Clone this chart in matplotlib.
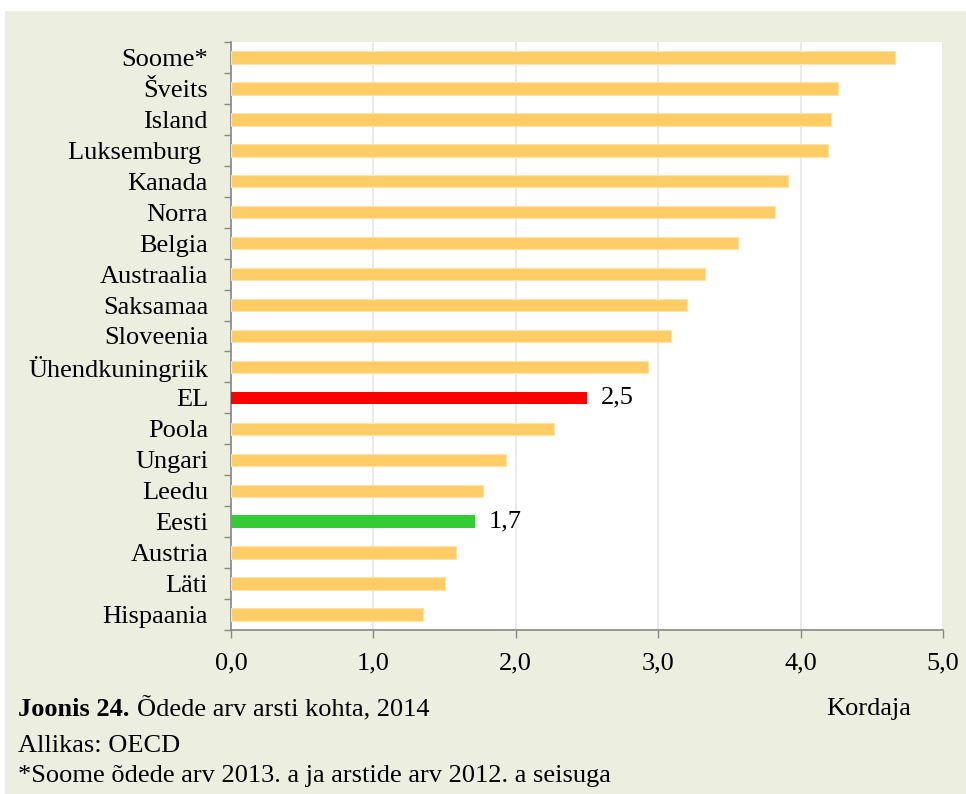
import matplotlib
matplotlib.use("Agg")
import matplotlib.pyplot as plt
import numpy as np
from matplotlib.patches import Rectangle

# data, top to bottom
countries = ["Soome*", "Šveits", "Island", "Luksemburg ", "Kanada", "Norra", "Belgia",
             "Austraalia", "Saksamaa", "Sloveenia", "Ühendkuningriik", "EL", "Poola",
             "Ungari", "Leedu", "Eesti", "Austria", "Läti", "Hispaania"]
values = [4.66, 4.26, 4.21, 4.19, 3.91, 3.82, 3.56, 3.33, 3.20, 3.09, 2.93, 2.50, 2.27,
          1.93, 1.77, 1.71, 1.58, 1.50, 1.35]
highlight = {"EL": "#FF0000", "Eesti": "#33CC33"}
xticks = [0, 1, 2, 3, 4, 5]

BG = "#ECEEDF"
BAR = "#FFCC66"
W, H = 966, 794
FS = 19

plt.rcParams["font.family"] = ["Liberation Serif", "DejaVu Serif"]

fig = plt.figure(figsize=(W / 100, H / 100), dpi=100, facecolor="white")
fig.patches.append(Rectangle((5 / W, 0), 1, 1 - 11 / H, transform=fig.transFigure,
                             facecolor=BG, edgecolor="none", zorder=-10))

ax = fig.add_axes([231 / W, 1 - 630 / H, (943 - 231) / W, (630 - 42) / H])
ax.set_facecolor("white")

y = np.arange(len(countries))
colors = [highlight.get(c, BAR) for c in countries]
edges = ["none" if c in highlight else "#FFE3A8" for c in countries]
ax.barh(y, values, height=0.4, color=colors, edgecolor=edges, linewidth=0.8, zorder=3)

for c, v, yy in zip(countries, values, y):
    if c in highlight:
        ax.text(v + 0.1, yy, f"{v:.1f}".replace(".", ","), va="center", ha="left",
                fontsize=FS, zorder=4)

ax.set_ylim(len(countries) - 0.5, -0.5)
ax.set_xlim(0, 5)

ax.set_yticks(y)
ax.set_yticklabels(countries, fontsize=FS)
ax.set_yticks(np.arange(-0.5, len(countries)), minor=True)
ax.tick_params(axis="y", which="major", length=0, pad=16.5)
ax.tick_params(axis="y", which="minor", length=5, color="#888888", width=1)

ax.set_xticks(xticks)
ax.set_xticklabels([f"{t:.1f}".replace(".", ",") for t in xticks], fontsize=FS)
ax.tick_params(axis="x", length=6, color="#888888", width=1, pad=10)

ax.grid(axis="x", color="#E6E6E6", linewidth=1.2, zorder=0)
for s in ["top", "right"]:
    ax.spines[s].set_visible(False)
for s in ["left", "bottom"]:
    ax.spines[s].set_color("#888888")
    ax.spines[s].set_linewidth(1.2)

fig.text(18 / W, 1 - 709 / H, "Joonis 24.", fontsize=FS, fontweight="bold", va="center")
fig.text(137 / W, 1 - 709 / H, "Õdede arv arsti kohta, 2014", fontsize=FS, va="center")
fig.text(826 / W, 1 - 709 / H, "Kordaja", fontsize=FS, va="center")
fig.text(18 / W, 1 - 746 / H, "Allikas: OECD", fontsize=FS, va="center")
fig.text(18 / W, 1 - 776 / H, "*Soome õdede arv 2013. a ja arstide arv 2012. a seisuga",
         fontsize=FS, va="center")

fig.savefig("out.png", dpi=100, facecolor=fig.get_facecolor())
